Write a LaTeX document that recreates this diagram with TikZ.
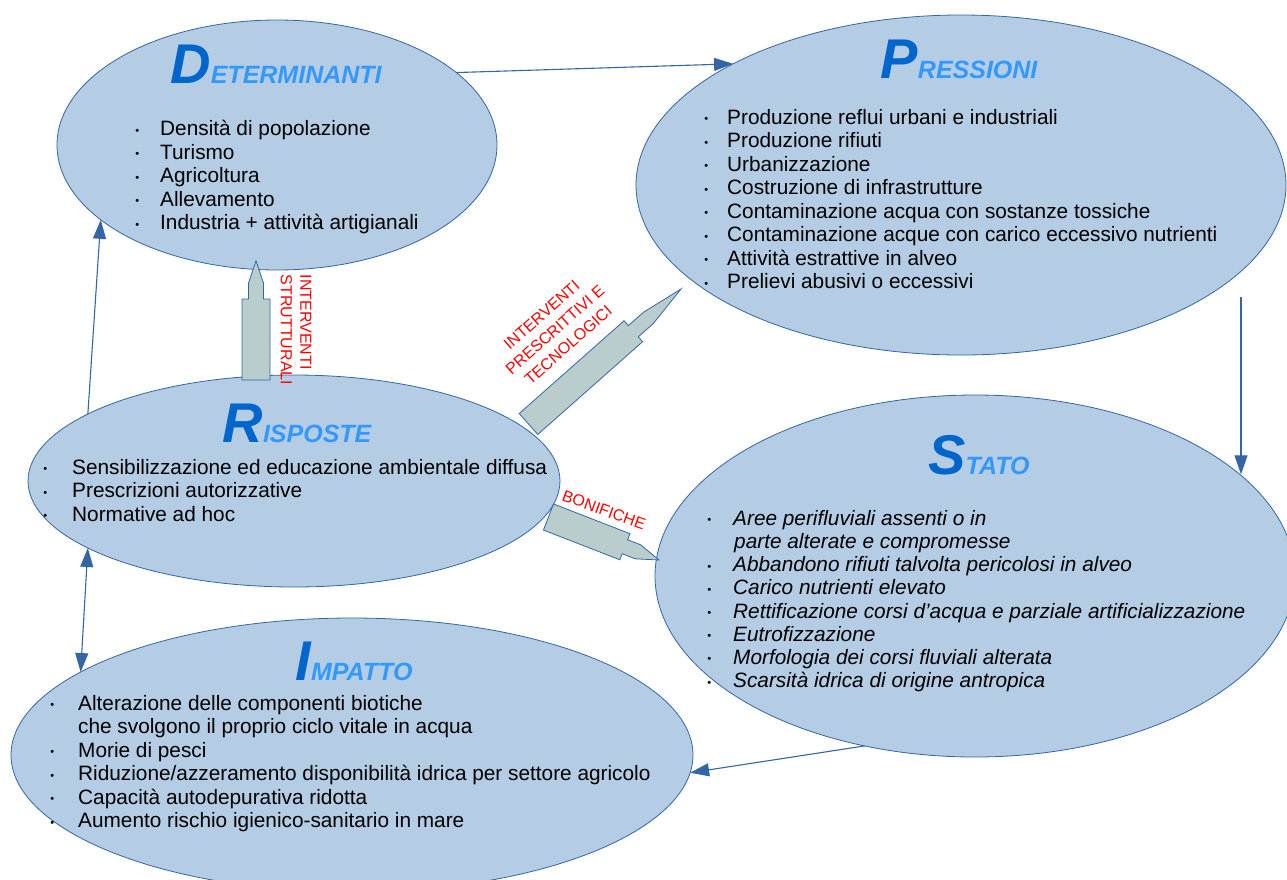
\documentclass[tikz,border=0pt]{standalone}
\usepackage{fontspec}
\setmainfont{Liberation Sans}
\usetikzlibrary{arrows.meta,shapes.geometric,calc}

\definecolor{blobfill}{HTML}{B4CCE4}
\definecolor{blobline}{HTML}{3465A4}
\definecolor{towerfill}{HTML}{B9CDCD}
\definecolor{bigblue}{HTML}{0066CC}
\definecolor{smallblue}{HTML}{3399FF}

\newlength\bulgap
\newcommand\itm{\llap{\fontsize{11}{11}\selectfont\raisebox{1.5pt}{•}\hspace{\bulgap}}}
\newcommand\ttl[2]{{\fontsize{56}{56}\selectfont\color{bigblue}#1}{\fontsize{25}{25}\selectfont\color{smallblue}#2}}
% tower arrow: base, tip, body length, neck end
\newcommand\tower[4]{%
  \draw[towerst] ($(#1)!14pt!90:(#2)$) -- ($(#1)!#3!(#2)!14pt!90:(#2)$)
    -- ($(#1)!#3!(#2)!7.5pt!90:(#2)$) -- ($(#1)!#4!(#2)!7.5pt!90:(#2)$) -- (#2)
    -- ($(#1)!#4!(#2)!7.5pt!-90:(#2)$) -- ($(#1)!#3!(#2)!7.5pt!-90:(#2)$)
    -- ($(#1)!#3!(#2)!14pt!-90:(#2)$) -- ($(#1)!14pt!-90:(#2)$) -- cycle;}

\begin{document}
\begin{tikzpicture}[x=1pt,y=-1pt,
  blob/.style={ellipse, draw=blobline, fill=blobfill, line width=0.8pt, inner sep=0pt, outer sep=0pt},
  title/.style={anchor=base, inner sep=0pt, font=\bfseries\itshape},
  list/.style={anchor=north west, inner sep=0pt, align=left, font=\fontsize{20.8}{23.5}\selectfont\setlength\bulgap{#1}},
  slist/.style={anchor=north west, inner sep=0pt, align=left, font=\fontsize{20.8}{23.2}\selectfont\itshape\setlength\bulgap{#1}},
  link/.style={draw=blobline, line width=1.1pt, -{Triangle[length=19pt,width=13pt]}},
  link2/.style={draw=blobline, line width=1.1pt, {Triangle[length=19pt,width=13pt]}-{Triangle[length=19pt,width=13pt]}},
  towerst/.style={draw=blobline, fill=towerfill, line width=0.8pt, line join=miter},
  redlbl/.style={inner sep=0pt, text=red, font=\fontsize{16}{19.5}\selectfont}]
\useasboundingbox (0,0) rectangle (1287,879);
% ellipses
\node[blob, minimum width=440pt, minimum height=250pt] (det) at (277,145) {};
\node[blob, minimum width=650pt, minimum height=340pt] (pres) at (961,185) {};
\node[blob, minimum width=532pt, minimum height=212pt] (risp) at (294,481) {};
\node[blob, minimum width=640pt, minimum height=362pt] (stato) at (975,576) {};
\node[blob, minimum width=682pt, minimum height=274pt] (imp) at (352,755) {};
% titles
\node[title] (dett) at (276,83) {\ttl{D}{ETERMINANTI}};
\node[title] (prest) at (959,78) {\ttl{P}{RESSIONI}};
\node[title] (rispt) at (297,442) {\ttl{R}{ISPOSTE}};
\node[title] (statot) at (979,474) {\ttl{S}{TATO}};
\node[title] (impt) at (354,680) {\ttl{I}{MPATTO}};
% lists
\node[list=21pt] (detl) at (160,120) {\itm Densità di popolazione\\ \itm Turismo\\ \itm Agricoltura\\
  \itm Allevamento\\ \itm Industria + attività artigianali};
\node[list=19pt] (presl) at (727,109) {\itm Produzione reflui urbani e industriali\\ \itm Produzione rifiuti\\
  \itm Urbanizzazione\\ \itm Costruzione di infrastrutture\\ \itm Contaminazione acqua con sostanze tossiche\\
  \itm Contaminazione acque con carico eccessivo nutrienti\\ \itm Attività estrattive in alveo\\
  \itm Prelievi abusivi o eccessivi};
\node[list=25pt] (rispl) at (72,459) {\itm Sensibilizzazione ed educazione ambientale diffusa\\
  \itm Prescrizioni autorizzative\\ \itm Normative ad hoc};
\node[slist=22pt] (statol) at (733,510) {\itm Aree perifluviali assenti o in\\ \hspace*{1pt}parte alterate e compromesse\\
  \itm Abbandono rifiuti talvolta pericolosi in alveo\\ \itm Carico nutrienti elevato\\
  \itm Rettificazione corsi d’acqua e parziale artificializzazione\\ \itm Eutrofizzazione\\
  \itm Morfologia dei corsi fluviali alterata\\ \itm Scarsità idrica di origine antropica};
\node[list=24pt] (impl) at (78,695) {\itm Alterazione delle componenti biotiche\\ che svolgono il proprio ciclo vitale in acqua\\
  \itm Morie di pesci\\ \itm Riduzione/azzeramento disponibilità idrica per settore agricolo\\
  \itm Capacità autodepurativa ridotta\\ \itm Aumento rischio igienico-sanitario in mare};
% arrows
\coordinate (presout) at (1241,297);
\draw[link] (det.22.6) -- (pres.152.5);
\draw[link] (presout) -- (presout |- stato.21.4);
\draw[link] (stato.-123.2) -- (imp.-3.9);
\draw[link] (risp.162.1) -- (det.-157.2);
\draw[link2] (risp.198.2) -- (imp.163);
% towers
\coordinate (t1a) at (256,380); \coordinate (t1b) at (256,261);
\coordinate (t2a) at (528.5,424); \coordinate (t2b) at (681,289);
\coordinate (t3a) at (548.5,517); \coordinate (t3b) at (659,560);
\tower{t1a}{t1b}{81pt}{97pt}
\tower{t2a}{t2b}{140pt}{160pt}
\tower{t3a}{t3b}{82pt}{96pt}
% labels
\node[redlbl, rotate=-90, align=left] (strut) at (296,330) {INTERVENTI\\STRUTTURALI};
\node[redlbl, rotate=41.5, align=center, font=\fontsize{16}{20}\selectfont] (presc) at (555,330) {INTERVENTI\\PRESCRITTIVI E\\TECNOLOGICI};
\node[redlbl, rotate=-20] (bonif) at (604,510) {BONIFICHE};
\end{tikzpicture}
\end{document}
